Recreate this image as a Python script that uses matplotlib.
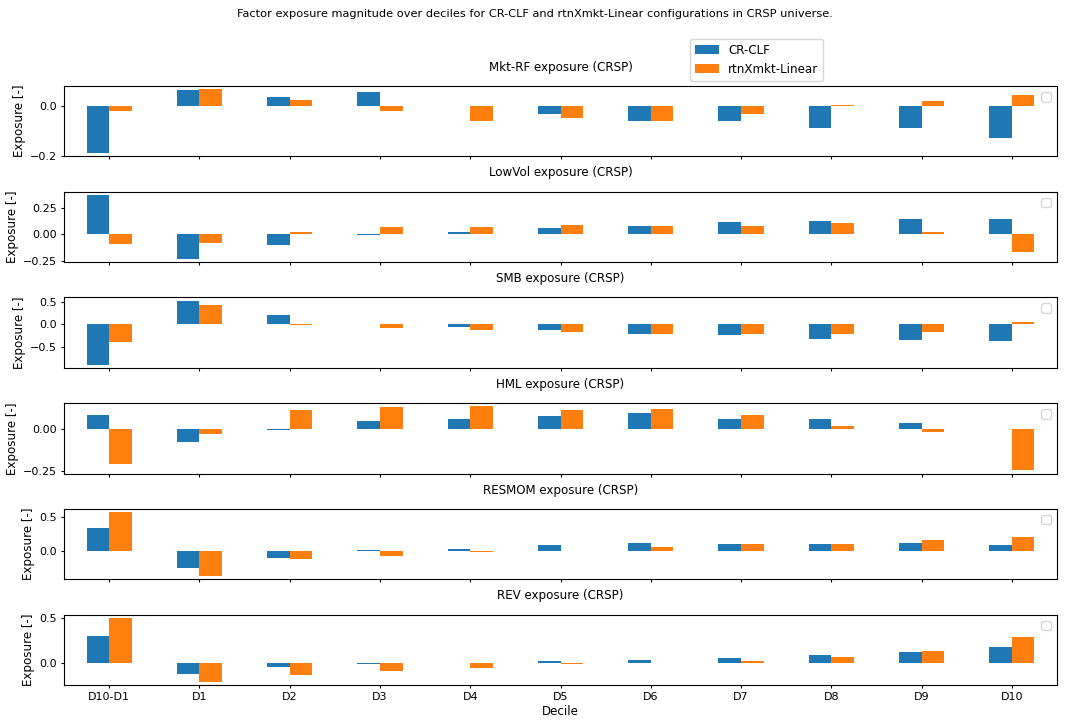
import numpy as np
from matplotlib import pyplot as plt

# deciles and configurations
DECILES = ["D10-D1", "D1", "D2", "D3", "D4", "D5", "D6", "D7", "D8", "D9", "D10"]
CONFIG_1 = "CR-CLF"
CONFIG_2 = "rtnXmkt-Linear"

# exposures per factor: (CR-CLF, rtnXmkt-Linear)
mktrf_clf = [-0.187, 0.065, 0.036, 0.059, 0.0, -0.030, -0.058, -0.058, -0.087, -0.087, -0.128]
mktrf_lin = [-0.019, 0.069, 0.024, -0.019, -0.058, -0.048, -0.058, -0.030, 0.004, 0.023, 0.044]

lowvol_clf = [0.378, -0.235, -0.100, -0.005, 0.025, 0.061, 0.077, 0.115, 0.128, 0.150, 0.150]
lowvol_lin = [-0.087, -0.081, 0.025, 0.070, 0.073, 0.087, 0.080, 0.077, 0.106, 0.022, -0.173]

smb_clf = [-0.877, 0.520, 0.196, 0.020, -0.065, -0.124, -0.210, -0.240, -0.320, -0.333, -0.370]
smb_lin = [-0.385, 0.435, -0.010, -0.080, -0.115, -0.167, -0.200, -0.210, -0.210, -0.167, 0.043]

hml_clf = [0.077, -0.077, -0.010, 0.043, 0.057, 0.073, 0.089, 0.057, 0.057, 0.032, 0.0]
hml_lin = [-0.208, -0.032, 0.107, 0.125, 0.131, 0.109, 0.113, 0.077, 0.015, -0.020, -0.246]

resmom_clf = [0.340, -0.243, -0.092, 0.015, 0.039, 0.087, 0.116, 0.106, 0.110, 0.126, 0.092]
resmom_lin = [0.568, -0.360, -0.116, -0.068, -0.015, 0.010, 0.068, 0.106, 0.100, 0.160, 0.204]

rev_clf = [0.300, -0.116, -0.033, -0.002, 0.0, 0.022, 0.036, 0.058, 0.094, 0.123, 0.177]
rev_lin = [0.500, -0.200, -0.127, -0.080, -0.051, -0.005, 0.0, 0.032, 0.072, 0.137, 0.289]

FACTORES = ["Mkt-RF", "LowVol", "SMB", "HML", "RESMOM", "REV"]
VALORES = [(mktrf_clf, mktrf_lin), (lowvol_clf, lowvol_lin), (smb_clf, smb_lin),
           (hml_clf, hml_lin), (resmom_clf, resmom_lin), (rev_clf, rev_lin)]
YTICKS = [[-0.2, 0.0], [-0.25, 0.0, 0.25], [-0.5, 0.0, 0.5],
          [-0.25, 0.0], [0.0, 0.5], [0.0, 0.5]]

plt.rcParams['font.size'] = 8.6
plt.rcParams['axes.titlesize'] = 8.6
plt.rcParams['xtick.labelsize'] = 8
plt.rcParams['ytick.labelsize'] = 8
plt.rcParams['xtick.major.size'] = 2.5
plt.rcParams['ytick.major.size'] = 2.5
plt.rcParams['xtick.major.pad'] = 2.5
plt.rcParams['ytick.major.pad'] = 2.5

fig, axes = plt.subplots(6, 1, figsize=(10.69, 7.2), dpi=100, sharex=True)
fig.subplots_adjust(left=64 / 1069, right=1057 / 1069, top=1 - 86 / 720,
                    bottom=1 - 685 / 720, hspace=0.5)

x = np.arange(len(DECILES))
ancho = 0.25

for ax, factor, (clf, lin), ticks in zip(axes, FACTORES, VALORES, YTICKS):
    ax.bar(x - ancho / 2, clf, ancho, color="#1f77b4", label=CONFIG_1)
    ax.bar(x + ancho / 2, lin, ancho, color="#ff7f0e", label=CONFIG_2)
    ax.set_title(f"{factor} exposure (CRSP)", pad=11)
    ax.set_ylabel("Exposure [-]", labelpad=3)
    ax.set_yticks(ticks)
    ax.set_xlim(-0.5, len(DECILES) - 0.5)
    ax.legend(handles=[], loc="upper right")

axes[-1].set_xticks(x)
axes[-1].set_xticklabels(DECILES, rotation=0)
axes[-1].set_xlabel("Decile", labelpad=2)

h, l = axes[0].get_legend_handles_labels()
fig.legend(h, l, loc="upper left", bbox_to_anchor=(684 / 1069, 1 - 33 / 720), fontsize=8.6)

fig.suptitle("Factor exposure magnitude over deciles for CR-CLF and rtnXmkt-Linear "
             "configurations in CRSP universe.", y=1 - 9 / 720, va="top", fontsize=8.2)

fig.savefig("out.png", dpi=100)
